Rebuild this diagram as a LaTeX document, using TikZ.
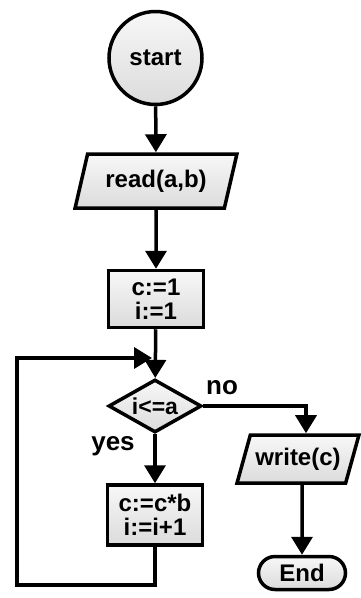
\documentclass[tikz,border=0pt]{standalone}
\usepackage{fontspec}
\setmainfont{Liberation Sans}
\usetikzlibrary{shapes.geometric,shapes.misc,arrows.meta}
\tikzset{
  x=1pt, y=-1pt,
  box/.style={draw=black, line width=3.5pt, top color=gray!6, bottom color=gray!28,
    font=\bfseries\fontsize{24}{25}\selectfont, inner sep=0pt, align=center},
  termc/.style={box, circle, minimum size=93pt},
  io/.style={box, trapezium, trapezium stretches=true},
  proc/.style={box, rectangle, minimum width=95pt},
  decision/.style={box, diamond, minimum width=93pt, minimum height=53pt},
  stad/.style={box, rounded rectangle, minimum width=87pt, minimum height=33pt},
  arr/.style={line width=3.5pt, -{Triangle[length=18pt,width=21pt]}},
  lbl/.style={font=\bfseries\fontsize{26}{28}\selectfont, inner sep=0pt},
}
\begin{document}
\begin{tikzpicture}
\useasboundingbox (0,0) rectangle (361,598);
\node[termc] (start) at (155.5,58) {start};
\node[io, trapezium left angle=67.5, trapezium right angle=112.5,
      minimum width=162pt, minimum height=54pt] (read) at (156,181) {read(a,b)};
\node[proc, minimum height=57pt] (init) at (156,299) {c:=1\\[-1pt]i:=1};
\node[decision, label={[lbl, font=\bfseries\fontsize{23}{24}\selectfont]center:{i<=a}}] (dec) at (155,406) {};
\node[proc, minimum height=60pt] (body) at (155,515) {c:=c*b\\[-1pt]i:=i+1};
\node[io, trapezium left angle=62, trapezium right angle=118,
      minimum width=122pt, minimum height=48pt] (write) at (298,459) {write(c)};
\node[stad] (end) at (302,573) {End};
\node[lbl] (no) at (222,388) {no};
\node[lbl] (yes) at (113,446) {yes};
\coordinate (lb) at (17,585);
\coordinate (join) at (152,358);
\draw[arr] (start) -- (read);
\draw[arr] (read) -- (init);
\draw[arr] (init) -- (dec);
\draw[arr] (dec) -- (body);
\draw[arr] (body.south) |- (lb) |- (join);
\draw[arr] (dec.east) -| ([xshift=8pt]write.north);
\draw[arr] (write.south -| end) -- (end);
\end{tikzpicture}
\end{document}
